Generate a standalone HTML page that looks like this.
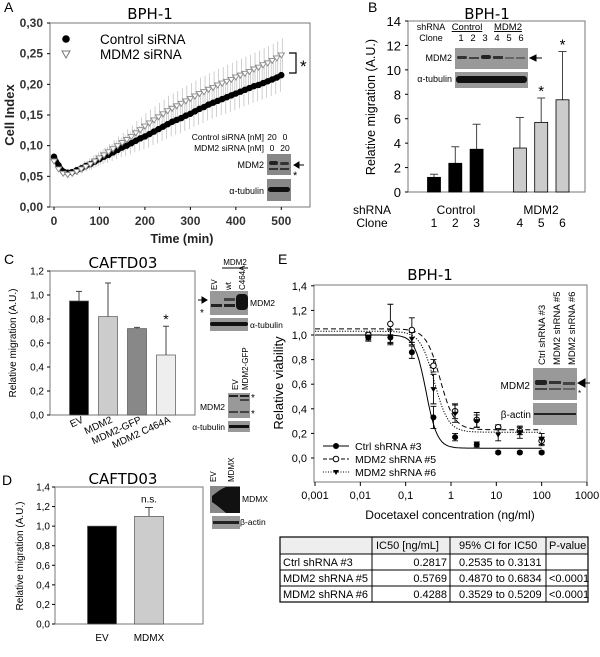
<!DOCTYPE html>
<html><head><meta charset="utf-8"><style>
html,body{margin:0;padding:0;background:#fff;}
svg{display:block;font-family:"Liberation Sans",sans-serif;}
.t{font-family:"DejaVu Sans","Liberation Sans",sans-serif;}
</style></head><body>
<svg id="fig" width="600" height="657" viewBox="0 0 600 657" xmlns="http://www.w3.org/2000/svg">
<rect width="600" height="657" fill="#fff"/>
<!-- Panel A -->
<g>
<text x="4" y="12" font-size="14">A</text>
<text x="150" y="19" font-size="15" text-anchor="middle" class="t">BPH-1</text>
<rect x="50" y="23" width="260" height="184" fill="none" stroke="#777"/>
<text transform="translate(14,115) rotate(-90)" font-size="13" font-weight="bold" fill="#222" text-anchor="middle">Cell Index</text>
<text x="182" y="243" font-size="12.5" font-weight="bold" fill="#222" text-anchor="middle">Time (min)</text>
<circle cx="66" cy="39" r="3.8" fill="#000"/>
<text x="100" y="44" font-size="13.5">Control siRNA</text>
<path d="M62,51 L70,51 L66,58 Z" fill="#fff" stroke="#777"/>
<text x="100" y="59" font-size="13.5">MDM2 siRNA</text>
<path d="M289,53 H296 V73 H289" fill="none" stroke="#000" stroke-width="1.2"/>
<text x="300" y="72" font-size="17">*</text>
<text x="264" y="140" font-size="8.5" text-anchor="end">Control siRNA [nM]</text>
<text x="272" y="140" font-size="8.5" text-anchor="middle">20</text>
<text x="285" y="140" font-size="8.5" text-anchor="middle">0</text>
<text x="264" y="151" font-size="8.5" text-anchor="end">MDM2 siRNA [nM]</text>
<text x="272" y="151" font-size="8.5" text-anchor="middle">0</text>
<text x="285" y="151" font-size="8.5" text-anchor="middle">20</text>
<rect x="267" y="154" width="24" height="21" fill="#888"/>
<rect x="269" y="161" width="9" height="4" rx="2" fill="#222"/><rect x="280" y="162" width="9" height="3" rx="1.5" fill="#333"/>
<rect x="269" y="168" width="9" height="2" fill="#333"/><rect x="280" y="168" width="9" height="2" fill="#333"/>
<rect x="267" y="179" width="24" height="22" fill="#888"/>
<rect x="268" y="187" width="22" height="5" rx="2.5" fill="#111"/>
<text x="264" y="168" font-size="9" text-anchor="end">MDM2</text>
<text x="264" y="194" font-size="9" text-anchor="end">α-tubulin</text>
<path d="M294,165 H304 M294,165 l5,-3 v6 z" stroke="#000" fill="#000"/>
<text x="293" y="179" font-size="11">*</text>
<g id="gA"></g>
</g>
<!-- Panel B -->
<g>
<text x="368" y="12" font-size="14">B</text>
<text x="487" y="19" font-size="15" text-anchor="middle" class="t">BPH-1</text>
<rect x="408" y="21" width="177" height="171" fill="none" stroke="#777"/>
<text transform="translate(375,107) rotate(-90)" font-size="12.5" text-anchor="middle">Relative migration (A.U.)</text>
<text x="372" y="214" font-size="12" text-anchor="middle">shRNA</text>
<text x="372" y="227" font-size="12" text-anchor="middle">Clone</text>
<text x="456" y="214" font-size="12" text-anchor="middle">Control</text>
<text x="541" y="214" font-size="12" text-anchor="middle">MDM2</text>
<text x="431" y="30" font-size="9" text-anchor="middle">shRNA</text>
<text x="467" y="30" font-size="9.5" text-anchor="middle" text-decoration="underline">Control</text>
<text x="508" y="30" font-size="9.5" text-anchor="middle" text-decoration="underline">MDM2</text>
<text x="431" y="41" font-size="9" text-anchor="middle">Clone</text>
<text x="461" y="41" font-size="9.5" text-anchor="middle">1</text>
<text x="473" y="41" font-size="9.5" text-anchor="middle">2</text>
<text x="485" y="41" font-size="9.5" text-anchor="middle">3</text>
<text x="497" y="41" font-size="9.5" text-anchor="middle">4</text>
<text x="509" y="41" font-size="9.5" text-anchor="middle">5</text>
<text x="521" y="41" font-size="9.5" text-anchor="middle">6</text>
<rect x="455" y="48" width="73" height="21" fill="#999"/>
<rect x="457" y="56" width="10" height="3" rx="1.5" fill="#333"/><rect x="469" y="57" width="10" height="2" fill="#444"/><rect x="481" y="55" width="10" height="4" rx="2" fill="#222"/><rect x="493" y="56" width="10" height="3" fill="#333"/><rect x="505" y="57" width="9" height="2" fill="#666"/><rect x="516" y="57" width="9" height="2" fill="#666"/>
<rect x="455" y="72" width="73" height="16" fill="#999"/>
<rect x="456" y="76" width="71" height="7" rx="3" fill="#111"/>
<text x="452" y="61" font-size="9" text-anchor="end">MDM2</text>
<text x="452" y="82" font-size="9" text-anchor="end">α-tubulin</text>
<path d="M530,58 H542 M530,58 l6,-3 v6 z" stroke="#000" fill="#000"/>
<g id="gB"></g>
</g>
<!-- Panel C -->
<g>
<text x="4" y="264" font-size="14">C</text>
<text x="123" y="268" font-size="15" text-anchor="middle" class="t">CAFTD03</text>
<rect x="50" y="271" width="145" height="144" fill="none" stroke="#777"/>
<text transform="translate(16,343) rotate(-90)" font-size="10" text-anchor="middle">Relative migration (A.U.)</text>
<text x="235" y="265" font-size="8" text-anchor="middle">MDM2</text>
<line x1="222" y1="268" x2="248" y2="268" stroke="#000"/>
<text transform="translate(217,290) rotate(-90)" font-size="8">EV</text>
<text transform="translate(231,290) rotate(-90)" font-size="8">wt</text>
<text transform="translate(245,290) rotate(-90)" font-size="8">C464A</text>
<rect x="210" y="291" width="38" height="24" fill="#999"/>
<rect x="211" y="304" width="11" height="3" fill="#222"/><rect x="224" y="304" width="11" height="3" fill="#222"/><rect x="224" y="298" width="11" height="3" fill="#444"/><rect x="236" y="294" width="12" height="16" rx="4" fill="#111"/>
<rect x="210" y="318" width="38" height="13" fill="#999"/>
<rect x="210" y="322" width="38" height="4" rx="2" fill="#111"/>
<text x="250" y="306" font-size="8.5">MDM2</text>
<text x="250" y="328" font-size="8.5">α-tubulin</text>
<path d="M198,300 H207 M207,300 l-5,-3 v6 z" stroke="#000" fill="#000"/>
<text x="200" y="316" font-size="10">*</text>
<text transform="translate(238,390) rotate(-90)" font-size="8">EV</text>
<text transform="translate(248,390) rotate(-90)" font-size="8">MDM2-GFP</text>
<rect x="228" y="393" width="22" height="25" fill="#999"/>
<rect x="229" y="395" width="9" height="2" fill="#222"/><rect x="240" y="395" width="9" height="2" fill="#222"/><rect x="240" y="399" width="9" height="2" fill="#444"/><rect x="229" y="411" width="9" height="2" fill="#444"/><rect x="240" y="411" width="9" height="2" fill="#444"/>
<rect x="228" y="421" width="22" height="11" fill="#999"/>
<rect x="229" y="425" width="20" height="3" fill="#111"/>
<text x="225" y="410" font-size="8.5" text-anchor="end">MDM2</text>
<text x="225" y="430" font-size="8.5" text-anchor="end">α-tubulin</text>
<text x="251" y="401" font-size="10">*</text>
<text x="251" y="417" font-size="10">*</text>
<g id="gC"></g>
</g>
<!-- Panel D -->
<g>
<text x="2" y="485" font-size="14">D</text>
<text x="123" y="484" font-size="15" text-anchor="middle" class="t">CAFTD03</text>
<rect x="55" y="487" width="148" height="137" fill="none" stroke="#777"/>
<text transform="translate(23,556) rotate(-90)" font-size="10" text-anchor="middle">Relative migration (A.U.)</text>
<text transform="translate(216,482) rotate(-90)" font-size="8">EV</text>
<text transform="translate(234,482) rotate(-90)" font-size="8">MDMX</text>
<rect x="210" y="486" width="30" height="27" fill="#888"/>
<path d="M212,496 Q222,488 226,487 H240 V513 H226 Q218,506 212,502 Z" fill="#111"/>
<rect x="212" y="516" width="28" height="13" fill="#999"/>
<rect x="213" y="521" width="26" height="3" fill="#222"/>
<text x="242" y="502" font-size="8.5">MDMX</text>
<text x="240" y="525" font-size="8.5">β-actin</text>
<g id="gD"></g>
</g>
<!-- Panel E -->
<g>
<text x="278" y="264" font-size="14">E</text>
<text x="430" y="280" font-size="15" text-anchor="middle" class="t">BPH-1</text>
<rect x="314" y="285" width="273" height="197" fill="none" stroke="#777"/>
<text transform="translate(283,383) rotate(-90)" font-size="13" text-anchor="middle">Relative viability</text>
<text x="450" y="519" font-size="12" text-anchor="middle">Docetaxel concentration (ng/ml)</text>
<text transform="translate(545,365) rotate(-90)" font-size="9.5">Ctrl shRNA #3</text>
<text transform="translate(560,365) rotate(-90)" font-size="9.5">MDM2 shRNA #5</text>
<text transform="translate(575,365) rotate(-90)" font-size="9.5">MDM2 shRNA #6</text>
<rect x="533" y="368" width="44" height="32" fill="#999"/>
<rect x="535" y="380" width="12" height="5" rx="2" fill="#222"/><rect x="549" y="381" width="12" height="3" fill="#333"/><rect x="563" y="382" width="12" height="3" fill="#444"/>
<rect x="535" y="388" width="12" height="2" fill="#444"/><rect x="549" y="388" width="12" height="2" fill="#555"/><rect x="563" y="388" width="12" height="2" fill="#666"/>
<rect x="533" y="403" width="44" height="22" fill="#999"/>
<rect x="534" y="413" width="42" height="2" fill="#222"/>
<text x="530" y="389" font-size="10" text-anchor="end">MDM2</text>
<text x="531" y="418" font-size="10" text-anchor="end">β-actin</text>
<path d="M578,383 H590 M578,383 l7,-4 v8 z" stroke="#000" fill="#000"/>
<text x="578" y="396" font-size="8">*</text>
<line x1="323" y1="446" x2="349" y2="446" stroke="#000"/>
<circle cx="336" cy="446" r="3" fill="#000"/>
<text x="355" y="450" font-size="10.5">Ctrl shRNA #3</text>
<line x1="323" y1="459" x2="349" y2="459" stroke="#000" stroke-dasharray="4,2"/>
<circle cx="336" cy="459" r="2.8" fill="#fff" stroke="#000"/>
<text x="355" y="463" font-size="10.5">MDM2 shRNA #5</text>
<line x1="323" y1="472" x2="349" y2="472" stroke="#000" stroke-dasharray="1,1.5"/>
<path d="M333,470 h6 l-3,5 z" fill="#000"/>
<text x="355" y="476" font-size="10.5">MDM2 shRNA #6</text>
<g id="gE"></g>
</g>
<!-- Table -->
<g font-size="11">
<rect x="280" y="537" width="308" height="17" fill="#eee"/>
<rect x="280" y="537" width="308" height="65" fill="none" stroke="#000" stroke-width="1.2"/>
<path d="M280,554 H588 M280,570 H588 M280,586 H588 M372,537 V602 M450,537 V602 M546,537 V602" stroke="#000"/>
<text x="376" y="549">IC50 [ng/mL]</text>
<text x="459" y="549">95% CI for IC50</text>
<text x="549" y="549">P-value</text>
<text x="283" y="566">Ctrl shRNA #3</text>
<text x="447" y="566" text-anchor="end">0.2817</text>
<text x="459" y="566">0.2535 to 0.3131</text>
<text x="283" y="582">MDM2 shRNA #5</text>
<text x="447" y="582" text-anchor="end">0.5769</text>
<text x="459" y="582">0.4870 to 0.6834</text>
<text x="549" y="582">&lt;0.0001</text>
<text x="283" y="598">MDM2 shRNA #6</text>
<text x="447" y="598" text-anchor="end">0.4288</text>
<text x="459" y="598">0.3529 to 0.5209</text>
<text x="549" y="598">&lt;0.0001</text>
</g>
</svg>
<script>
// ---- Panel A data (every 10 min)
const timesA = Array.from({length:51},(_,i)=>i*10);
const controlA = [.082,.068,.058,.056,.057,.060,.063,.067,.070,.074,.078,.082,.085,.089,.093,.097,.100,.104,.108,.112,.115,.119,.123,.127,.131,.135,.139,.142,.145,.149,.152,.156,.160,.163,.167,.170,.173,.176,.179,.182,.185,.188,.191,.194,.197,.199,.202,.205,.208,.211,.215];
const mdm2A = [.075,.062,.055,.053,.055,.058,.062,.066,.070,.075,.080,.085,.090,.095,.100,.105,.110,.115,.121,.126,.132,.137,.142,.147,.152,.157,.161,.165,.169,.173,.177,.181,.185,.188,.192,.195,.199,.202,.205,.208,.212,.215,.218,.221,.225,.228,.232,.235,.239,.243,.248];
const errA = [.004,.004,.004,.005,.005,.006,.007,.008,.009,.010,.011,.012,.013,.014,.015,.016,.017,.018,.019,.020,.021,.022,.022,.023,.023,.024,.024,.024,.025,.025,.025,.025,.026,.026,.026,.026,.026,.026,.027,.027,.027,.027,.027,.027,.027,.027,.027,.027,.027,.027,.027];
const yTicksA = [0,0.05,0.10,0.15,0.20,0.25,0.30];
const yTickLabelsA = ["0,00","0,05","0,10","0,15","0,20","0,25","0,30"];
const xTicksA = [0,100,200,300,400,500];
// ---- Panel B
const clonesB = ["1","2","3","4","5","6"];
const valuesB = [1.2,2.35,3.5,3.6,5.7,7.55];
const errTopB = [1.45,3.7,5.55,6.1,7.7,11.5];
const starsB = [false,false,false,false,true,true];
const yTicksB = [0,2,4,6,8,10,12,14];
// ---- Panel C
const catsC = ["EV","MDM2","MDM2-GFP","MDM2 C464A"];
const valuesC = [0.95,0.82,0.72,0.50];
const errTopC = [1.03,1.10,0.73,0.74];
const starsC = [false,false,false,true];
const yTicksC = [0,0.2,0.4,0.6,0.8,1.0,1.2];
const yTickLabelsC = ["0,0","0,2","0,4","0,6","0,8","1,0","1,2"];
// ---- Panel D
const catsD = ["EV","MDMX"];
const valuesD = [1.0,1.1];
const errTopD = [null,1.19];
const yTicksD = [0,0.2,0.4,0.6,0.8,1.0,1.2,1.4];
const yTickLabelsD = ["0,0","0,2","0,4","0,6","0,8","1,0","1,2","1,4"];
// ---- Panel E
const concE = [0.015,0.046,0.137,0.41,1.23,3.7,11,33,100];
const ctrlE = [0.98,0.98,0.86,0.33,0.17,0.11,0.045,0.045,0.045];
const ctrlErrE = [0.03,0.06,0.05,0.09,0.03,0.02,0.01,0.01,0.01];
const sh5E = [1.00,1.09,1.04,0.75,0.38,0.31,0.25,0.22,0.14];
const sh5ErrE = [0.02,0.16,0.10,0.05,0.06,0.06,0.02,0.03,0.03];
const sh6E = [0.98,0.99,0.97,0.56,0.36,0.30,0.19,0.21,0.15];
const sh6ErrE = [0.02,0.05,0.05,0.12,0.07,0.05,0.05,0.05,0.05];
const fitTopE = [1.00,1.05,1.03];
const fitBottomE = [0.08,0.23,0.21];
const fitIC50E = [0.2817,0.5769,0.4288];
const fitHillE = [3.5,2.8,2.8];
const yTicksE = [0,0.2,0.4,0.6,0.8,1.0,1.2,1.4];
const yTickLabelsE = ["0,0","0,2","0,4","0,6","0,8","1,0","1,2","1,4"];
const xTicksE = [0.001,0.01,0.1,1,10,100,1000];
const xTickLabelsE = ["0,001","0,01","0,1","1","10","100","1000"];

const NS="http://www.w3.org/2000/svg";
function mk(tag,a,p){const e=document.createElementNS(NS,tag);for(const k in a)e.setAttribute(k,a[k]);p.appendChild(e);return e;}
function tx(p,x,y,s,a){const e=mk('text',Object.assign({x:x,y:y},a||{}),p);e.textContent=s;return e;}

const xA=t=>54+t*0.4546, yA=v=>207-v/0.3*184;
const xB=i=>434+i*21.3+(i>=3?22:0), yB=v=>192-v/14*171;
const xC=i=>79+i*29, yC=v=>415-v/1.2*144;
const xD=i=>102+i*47, yD=v=>624-v/1.4*137;
const xE=c=>315+45.33*(Math.log10(c)+3), yE=v=>458-v*123;

// ---- Panel A
const gA=document.getElementById('gA');
yTicksA.forEach((v,i)=>{
  const l=mk('line',{x1:47,x2:50,y1:yA(v),y2:yA(v),stroke:'#000'},gA);
  
  
  const t=tx(gA,43,yA(v)+4,yTickLabelsA[i],{'font-size':12,'text-anchor':'end','font-weight':'bold',fill:'#333'});
  
  
});
xTicksA.forEach(v=>{
  const l=mk('line',{x1:xA(v),x2:xA(v),y1:207,y2:210,stroke:'#000'},gA);
  
  
  const t=tx(gA,xA(v),225,String(v),{'font-size':12,'text-anchor':'middle','font-weight':'bold',fill:'#333'});
  
  
});
timesA.forEach((t,i)=>{
  [controlA,mdm2A].forEach((s,k)=>{
    const eb=mk('line',{x1:xA(t)+(k?1:-1),x2:xA(t)+(k?1:-1),y1:yA(s[i]+errA[i]),y2:yA(s[i]-errA[i]),stroke:'#bbb','stroke-width':0.7},gA);
    
    
  });
});
const pc=mk('polyline',{points:timesA.map((t,i)=>xA(t)+','+yA(controlA[i])).join(' '),fill:'none',stroke:'#000','stroke-width':5},gA);


timesA.forEach((t,i)=>{
  const c=mk('circle',{cx:xA(t),cy:yA(controlA[i]),r:3.2,fill:'#000'},gA);
  
  
});
timesA.forEach((t,i)=>{
  const x=xA(t),y=yA(mdm2A[i]);
  const p=mk('path',{d:`M${x-3.2},${y-2} L${x+3.2},${y-2} L${x},${y+3} Z`,fill:'#fff',stroke:'#888','stroke-width':0.9},gA);
  
  
});

// ---- Panel B
const gB=document.getElementById('gB');
yTicksB.forEach(v=>{
  const l=mk('line',{x1:405,x2:408,y1:yB(v),y2:yB(v),stroke:'#000'},gB);
  
  
  const t=tx(gB,401,yB(v)+5,String(v),{'font-size':13,'text-anchor':'end'});
  
  
});
valuesB.forEach((v,i)=>{
  const x=xB(i);
  const e=mk('path',{d:`M${x},${yB(v)} V${yB(errTopB[i])} M${x-4},${yB(errTopB[i])} H${x+4}`,stroke:'#444','stroke-width':1},gB);
  
  
  const r=mk('rect',{x:x-6.5,y:yB(v),width:13,height:yB(0)-yB(v),fill:i<3?'#000':'#ccc',stroke:'#000','stroke-width':0.8},gB);
  
  
  const t=tx(gB,x,227,clonesB[i],{'font-size':12,'text-anchor':'middle'});
  
  
  if(starsB[i]){
    const s=tx(gB,x,yB(errTopB[i])-2,'*',{'font-size':15,'text-anchor':'middle'});
    
    
  }
});

// ---- Panel C
const gC=document.getElementById('gC');
yTicksC.forEach((v,i)=>{
  const l=mk('line',{x1:47,x2:50,y1:yC(v),y2:yC(v),stroke:'#000'},gC);
  
  
  const t=tx(gC,44,yC(v)+3.5,yTickLabelsC[i],{'font-size':10,'text-anchor':'end'});
  
  
});
const colC=['#000','#ccc','#888','#eee'];
valuesC.forEach((v,i)=>{
  const x=xC(i);
  const e=mk('path',{d:`M${x},${yC(v)} V${yC(errTopC[i])} M${x-3},${yC(errTopC[i])} H${x+3}`,stroke:'#444'},gC);
  
  
  const r=mk('rect',{x:x-9.5,y:yC(v),width:19,height:yC(0)-yC(v),fill:colC[i],stroke:'#555','stroke-width':0.7},gC);
  
  
  const t=tx(gC,0,0,catsC[i],{'font-size':10,'text-anchor':'end',transform:`translate(${x+5},422) rotate(-25)`});
  
  
  if(starsC[i]){
    const s=tx(gC,x,yC(errTopC[i])-2,'*',{'font-size':14,'text-anchor':'middle'});
    
    
  }
});

// ---- Panel D
const gD=document.getElementById('gD');
yTicksD.forEach((v,i)=>{
  const l=mk('line',{x1:52,x2:55,y1:yD(v),y2:yD(v),stroke:'#000'},gD);
  
  
  const t=tx(gD,50,yD(v)+3.5,yTickLabelsD[i],{'font-size':10,'text-anchor':'end'});
  
  
});
valuesD.forEach((v,i)=>{
  const x=xD(i);
  if(errTopD[i]!==null){
    const e=mk('path',{d:`M${x},${yD(v)} V${yD(errTopD[i])} M${x-4},${yD(errTopD[i])} H${x+4}`,stroke:'#444'},gD);
    
    
    const s=tx(gD,x,yD(errTopD[i])-5,'n.s.',{'font-size':10,'text-anchor':'middle'});
    
    
  }
  const r=mk('rect',{x:x-14.5,y:yD(v),width:29,height:yD(0)-yD(v),fill:i?'#ccc':'#000',stroke:'#555','stroke-width':0.7},gD);
  
  
  const t=tx(gD,x,641,catsD[i],{'font-size':10,'text-anchor':'middle'});
  
  
});

// ---- Panel E
const gE=document.getElementById('gE');
yTicksE.forEach((v,i)=>{
  const l=mk('line',{x1:311,x2:314,y1:yE(v),y2:yE(v),stroke:'#000'},gE);
  
  
  const t=tx(gE,307,yE(v)+4,yTickLabelsE[i],{'font-size':11,'text-anchor':'end'});
  
  
});
xTicksE.forEach((c,i)=>{
  const l=mk('line',{x1:xE(c),x2:xE(c),y1:482,y2:486,stroke:'#000'},gE);
  
  
  const t=tx(gE,xE(c),499,xTickLabelsE[i],{'font-size':11,'text-anchor':'middle'});
  
  
});
const dashes=['none','5,3','1.2,1.5'];
const seriesNames=['ctrl-shrna3','mdm2-shrna5','mdm2-shrna6'];
[0,1,2].forEach(k=>{
  let pts=[];
  for(let lx=-3;lx<=2.001;lx+=0.05){const c=Math.pow(10,lx);
    const v=fitBottomE[k]+(fitTopE[k]-fitBottomE[k])/(1+Math.pow(c/fitIC50E[k],fitHillE[k]));
    pts.push(xE(c).toFixed(1)+','+yE(v).toFixed(1));}
  const pl=mk('polyline',{points:pts.join(' '),fill:'none',stroke:'#000','stroke-width':1,'stroke-dasharray':dashes[k]},gE);
  
  
});
[[ctrlE,ctrlErrE],[sh5E,sh5ErrE],[sh6E,sh6ErrE]].forEach(([vals,errs],k)=>{
  concE.forEach((c,i)=>{
    const x=xE(c),y=yE(vals[i]),t=yE(vals[i]+errs[i]),b=yE(vals[i]-errs[i]);
    const e=mk('path',{d:`M${x},${t} V${b} M${x-3},${t} H${x+3} M${x-3},${b} H${x+3}`,stroke:'#000','stroke-width':0.9},gE);
    
    
    let m;
    if(k===0) m=mk('circle',{cx:x,cy:y,r:3,fill:'#000'},gE);
    else if(k===1) m=mk('circle',{cx:x,cy:y,r:2.8,fill:'#fff',stroke:'#000'},gE);
    else m=mk('path',{d:`M${x-3},${y-2} h6 l-3,5 z`,fill:'#000'},gE);
    
    
  });
});
</script>
</body></html>
